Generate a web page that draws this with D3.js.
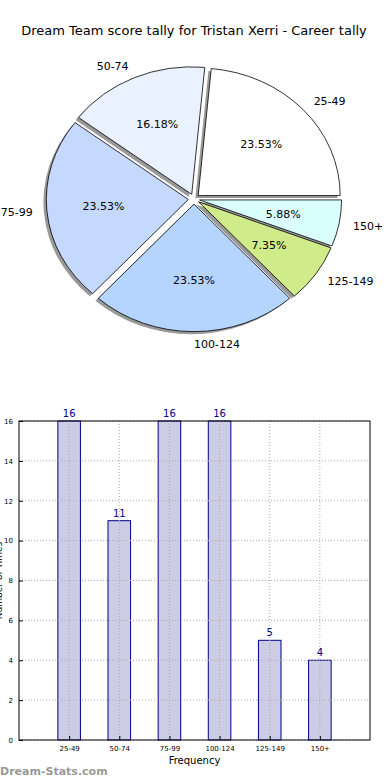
<!DOCTYPE html>
<html>
<head>
<meta charset="utf-8">
<script src="https://cdn.jsdelivr.net/npm/d3@7"></script>
<style>
  body { margin: 0; background: #fff; }
  svg { font-family: "DejaVu Sans", sans-serif; display: block; }
</style>
</head>
<body>
<div id="chart"></div>
<script>
const categories = ["25-49", "50-74", "75-99", "100-124", "125-149", "150+"];
const counts = [16, 11, 16, 16, 5, 4];
const pieColors = ["#ffffff", "#eaf1ff", "#c5d9ff", "#b5d5ff", "#cfeb8a", "#daffff"];
const yTicks = [0, 2, 4, 6, 8, 10, 12, 14, 16];

const w = 390, h = 780;
const svg = d3.select("#chart").append("svg").attr("width", w).attr("height", h);

svg.append("text")
  .attr("x", 194).attr("y", 35)
  .attr("text-anchor", "middle")
  .attr("font-size", 13)
  .text("Dream Team score tally for Tristan Xerri - Career tally");

// ---- pie (matplotlib style: starts at 3 o'clock, counterclockwise, elliptical) ----
const cx = 194, cy = 199, rx = 142, ry = 127.5, explode = 0.04;
const total = d3.sum(counts);

const pie = d3.pie().sort(null)
  .startAngle(Math.PI / 2)
  .endAngle(Math.PI / 2 - 2 * Math.PI);
const arcs = pie(counts);
const arc = d3.arc().innerRadius(0).outerRadius(1);

const pg = svg.append("g").attr("transform", `translate(${cx},${cy}) scale(${rx},${ry})`);
const mid = d => (d.startAngle + d.endAngle) / 2;

// shadows first
pg.selectAll("path.shadow")
  .data(arcs)
  .enter().append("path")
  .attr("class", "shadow")
  .attr("d", arc)
  .attr("transform", d => `translate(${explode * Math.sin(mid(d)) - 0.02},${-explode * Math.cos(mid(d)) + 0.02})`)
  .attr("fill", "#555")
  .attr("opacity", 0.6);

pg.selectAll("path.slice")
  .data(arcs)
  .enter().append("path")
  .attr("class", "slice")
  .attr("d", arc)
  .attr("transform", d => `translate(${explode * Math.sin(mid(d))},${-explode * Math.cos(mid(d))})`)
  .attr("fill", (d, i) => pieColors[i])
  .attr("stroke", "#000")
  .attr("stroke-width", 0.8)
  .attr("vector-effect", "non-scaling-stroke")
  .attr("stroke-linejoin", "round");

svg.selectAll("text.lbl")
  .data(arcs)
  .enter().append("text")
  .attr("class", "lbl")
  .attr("x", d => cx + (1.1 + explode) * rx * Math.sin(mid(d)))
  .attr("y", d => cy - (1.1 + explode) * ry * Math.cos(mid(d)))
  .attr("dy", "0.35em")
  .attr("text-anchor", d => Math.sin(mid(d)) > -1e-6 ? "start" : "end")
  .attr("font-size", 11)
  .text((d, i) => categories[i]);

svg.selectAll("text.pct")
  .data(arcs)
  .enter().append("text")
  .attr("class", "pct")
  .attr("x", d => cx + (0.6 + explode) * rx * Math.sin(mid(d)))
  .attr("y", d => cy - (0.6 + explode) * ry * Math.cos(mid(d)))
  .attr("dy", "0.35em")
  .attr("text-anchor", "middle")
  .attr("font-size", 11)
  .text(d => (d.data / total * 100).toFixed(2) + "%");

// ---- bar chart ----
const plotL = 19, plotR = 370, plotT = 421, plotB = 740;
const x = d3.scaleLinear().domain([-1, 6]).range([plotL, plotR]);
const y = d3.scaleLinear().domain([0, 16]).range([plotB, plotT]);
const barW = x(0.45) - x(0);

const bg = svg.append("g");

bg.selectAll("rect.bar")
  .data(counts)
  .enter().append("rect")
  .attr("class", "bar")
  .attr("x", (d, i) => x(i) - barW / 2)
  .attr("y", d => y(d))
  .attr("width", barW)
  .attr("height", d => y(0) - y(d))
  .attr("fill", "#cccce5")
  .attr("stroke", "#00008b")
  .attr("stroke-width", 1);

// grid on top
bg.selectAll("line.hg")
  .data(yTicks)
  .enter().append("line")
  .attr("x1", plotL).attr("x2", plotR)
  .attr("y1", d => y(d)).attr("y2", d => y(d))
  .attr("stroke", "#aaa").attr("stroke-dasharray", "1,2");
bg.selectAll("line.vg")
  .data(categories)
  .enter().append("line")
  .attr("x1", (d, i) => x(i)).attr("x2", (d, i) => x(i))
  .attr("y1", plotT).attr("y2", plotB)
  .attr("stroke", "#aaa").attr("stroke-dasharray", "1,2");

bg.append("rect")
  .attr("x", plotL).attr("y", plotT)
  .attr("width", plotR - plotL).attr("height", plotB - plotT)
  .attr("fill", "none").attr("stroke", "#000").attr("stroke-width", 1);

const yAxis = d3.axisLeft(y).tickValues(yTicks).tickSize(-4).tickPadding(6);
bg.append("g")
  .attr("transform", `translate(${plotL},0)`)
  .call(yAxis)
  .call(g => g.select(".domain").remove())
  .call(g => g.selectAll("text").attr("font-size", 7).attr("font-family", "DejaVu Sans"));

const xAxis = d3.axisBottom(x).tickValues(d3.range(categories.length))
  .tickFormat(i => categories[i]).tickSize(-4).tickPadding(6);
bg.append("g")
  .attr("transform", `translate(0,${plotB})`)
  .call(xAxis)
  .call(g => g.select(".domain").remove())
  .call(g => g.selectAll("text").attr("font-size", 7).attr("font-family", "DejaVu Sans"));

bg.selectAll("text.val")
  .data(counts)
  .enter().append("text")
  .attr("class", "val")
  .attr("x", (d, i) => x(i))
  .attr("y", d => y(d) - 4)
  .attr("text-anchor", "middle")
  .attr("font-size", 10)
  .attr("fill", "#00008b")
  .text(d => d);

svg.append("text")
  .attr("x", (plotL + plotR) / 2).attr("y", 764)
  .attr("text-anchor", "middle")
  .attr("font-size", 10)
  .text("Frequency");

// y label sits mostly beyond the left edge, as in the reference
svg.append("text")
  .attr("transform", `translate(2,${(plotT + plotB) / 2}) rotate(-90)`)
  .attr("text-anchor", "middle")
  .attr("font-size", 9)
  .text("Number of Times");

svg.append("text")
  .attr("x", 0).attr("y", 775)
  .attr("font-size", 11)
  .attr("font-weight", "600")
  .attr("fill", "#999")
  .text("Dream-Stats.com");
</script>
</body>
</html>
